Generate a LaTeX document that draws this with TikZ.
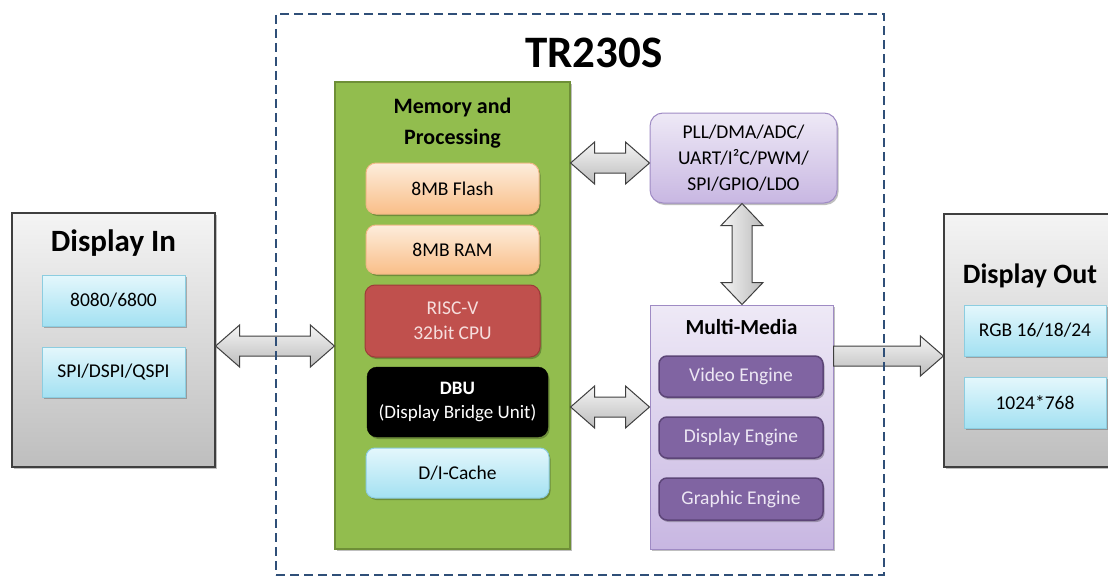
\documentclass[tikz,border=0pt]{standalone}
\usepackage{fontspec}
\setmainfont{Carlito}
\usetikzlibrary{calc,shadows}
\definecolor{grayT}{HTML}{F4F4F4}
\definecolor{grayB}{HTML}{BEBEBE}
\definecolor{darkline}{HTML}{3F3F3F}
\definecolor{cyanT}{HTML}{E4F7FC}
\definecolor{cyanB}{HTML}{A3E1F2}
\definecolor{cyanL}{HTML}{8CCDE0}
\definecolor{greenF}{HTML}{92BD4E}
\definecolor{greenL}{HTML}{6E8F37}
\definecolor{orangeT}{HTML}{FDEDDC}
\definecolor{orangeB}{HTML}{F9BE88}
\definecolor{orangeL}{HTML}{F2B887}
\definecolor{redF}{HTML}{C0504D}
\definecolor{redL}{HTML}{9E3B39}
\definecolor{redT}{HTML}{F6DEDD}
\definecolor{lavT}{HTML}{EEE9F6}
\definecolor{lavB}{HTML}{C8B7E2}
\definecolor{lavL}{HTML}{9F8BC4}
\definecolor{engF}{HTML}{8064A2}
\definecolor{engL}{HTML}{5C4577}
\definecolor{engT}{HTML}{EDE7F4}
\definecolor{dashC}{HTML}{2F4F78}
\definecolor{arrT}{HTML}{F5F5F5}
\definecolor{arrB}{HTML}{BCBCBC}
\newcommand{\dblarrH}[3]{%
  \path[fatarrow] let \p1=(#1),\p2=(#2),\p3=(0,#3) in
    (\x1,\y3) -- (\x1+24pt,\y3+21pt) -- (\x1+24pt,\y3+10pt) -- (\x2-24pt,\y3+10pt)
    -- (\x2-24pt,\y3+21pt) -- (\x2,\y3) -- (\x2-24pt,\y3-21pt) -- (\x2-24pt,\y3-10pt)
    -- (\x1+24pt,\y3-10pt) -- (\x1+24pt,\y3-21pt) -- cycle;}
\newcommand{\dblarrV}[3]{%
  \path[fatarrowv] let \p1=(#1),\p2=(#2),\p3=(#3,0) in
    (\x3,\y1) -- (\x3+21pt,\y1-22pt) -- (\x3+10pt,\y1-22pt) -- (\x3+10pt,\y2+22pt)
    -- (\x3+21pt,\y2+22pt) -- (\x3,\y2) -- (\x3-21pt,\y2+22pt) -- (\x3-10pt,\y2+22pt)
    -- (\x3-10pt,\y1-22pt) -- (\x3-21pt,\y1-22pt) -- cycle;}
\newcommand{\oneArrH}[3]{%
  \path[fatarrow] let \p1=(#1),\p2=(#2),\p3=(0,#3) in
    (\x1,\y3+10pt) -- (\x2-23pt,\y3+10pt) -- (\x2-23pt,\y3+20pt) -- (\x2,\y3)
    -- (\x2-23pt,\y3-20pt) -- (\x2-23pt,\y3-10pt) -- (\x1,\y3-10pt) -- cycle;}
\tikzset{
  shad/.style={drop shadow={shadow xshift=1.5pt,shadow yshift=-2pt,opacity=0.25,fill=black}},
  txt/.style={inner sep=0pt, align=center, font=\fontsize{19.5}{24}\selectfont},
  graybox/.style={draw=darkline, line width=1.2pt, top color=grayT, bottom color=grayB, shad},
  cyanbox/.style={txt, draw=cyanL, line width=1pt, top color=cyanT, bottom color=cyanB, shad},
  cyanround/.style={cyanbox, rounded corners=9pt},
  greenbox/.style={draw=greenL, line width=1.2pt, fill=greenF, shad},
  orangebox/.style={txt, draw=orangeL, line width=1pt, top color=orangeT, bottom color=orangeB, rounded corners=10pt, shad},
  redbox/.style={txt, draw=redL, line width=1pt, fill=redF, text=redT, rounded corners=10pt, shad},
  blackbox/.style={txt, draw=black, fill=black, text=white, rounded corners=10pt, shad},
  lavbox/.style={draw=lavL, line width=1pt, top color=lavT, bottom color=lavB, shad},
  engbox/.style={txt, draw=engL, line width=1.5pt, fill=engF, text=engT, rounded corners=8pt, shad},
  fatarrow/.style={draw=darkline, line width=1pt, top color=arrT, bottom color=arrB},
  fatarrowv/.style={draw=darkline, line width=1pt, left color=arrT, right color=arrB},
  chipbox/.style={draw=dashC, line width=2.5pt, dash pattern=on 9pt off 5pt},
  heading/.style={inner sep=0pt, font=\bfseries\fontsize{#1}{#1}\selectfont}
}
\begin{document}
\begin{tikzpicture}[x=1pt,y=-1pt]
\useasboundingbox (0,0) rectangle (1108,578);
\clip (0,0) rectangle (1108,578);
\fill[white] (0,0) rectangle (1108,578);

% Display In
\node[graybox, minimum width=203pt, minimum height=254pt] (dispin) at (113.5,340) {};
\node[heading=31, anchor=base] (dintitle) at (113.5,251) {Display In};
\node[cyanbox, minimum width=143pt, minimum height=51pt] (d1) at (113.5,300.5) {8080/6800};
\node[cyanbox, minimum width=143pt, minimum height=50pt] (d2) at (113.5,372) {SPI/DSPI/QSPI};

% Memory and Processing
\node[greenbox, minimum width=235pt, minimum height=467pt] (mem) at (452.5,315.5) {};
\node[heading=22, align=center, font=\bfseries\fontsize{22}{31}\selectfont] (memtitle) at (452.5,123) {Memory and\\Processing};
\node[orangebox, minimum width=173pt, minimum height=51pt] (flash) at (452.5,188.5) {8MB Flash};
\node[orangebox, minimum width=173pt, minimum height=49pt] (ram) at (452.5,249.5) {8MB RAM};
\node[redbox, minimum width=175pt, minimum height=72pt, font=\fontsize{19.5}{25}\selectfont] (cpu) at (452.5,321) {RISC-V\\32bit CPU};
\node[blackbox, minimum width=181pt, minimum height=70pt, font=\fontsize{19}{24}\selectfont] (dbu) at (457.5,402) {\textbf{DBU}\\(Display Bridge Unit)};
\node[cyanround, minimum width=183pt, minimum height=50pt] (cache) at (457.5,473) {D/I-Cache};

% Peripherals
\node[lavbox, txt, rounded corners=13pt, minimum width=187pt, minimum height=90pt, font=\fontsize{19.5}{26}\selectfont] (pll) at (743.5,158) {PLL/DMA/ADC/\\UART/I²C/PWM/\\SPI/GPIO/LDO};

% Multi-Media
\node[lavbox, minimum width=183pt, minimum height=244pt] (mm) at (741.5,427) {};
\node[heading=21.5, anchor=base] (mmtitle) at (741.5,334) {Multi-Media};
\node[engbox, minimum width=164pt, minimum height=41pt] (video) at (741,376.5) {Video Engine};
\node[engbox, minimum width=164pt, minimum height=41pt] (dispeng) at (741,437.5) {Display Engine};
\node[engbox, minimum width=164pt, minimum height=42pt] (graph) at (741,499) {Graphic Engine};

% Display Out
\node[graybox, minimum width=186pt, minimum height=253pt] (dout) at (1037,340.5) {};
\node[heading=28, anchor=base] (dotitle) at (1030,283) {Display Out};
\node[cyanbox, minimum width=142pt, minimum height=51pt] (o1) at (1035,330.5) {RGB 16/18/24};
\node[cyanbox, minimum width=142pt, minimum height=51pt] (o2) at (1035,402.5) {1024*768};

% Arrows
\dblarrH{dispin.east}{mem.west}{346}
\dblarrH{mem.east}{pll.west}{163}
\dblarrH{mem.east}{mm.west}{407}
\dblarrV{pll.south}{mm.north}{742}
\oneArrH{mm.east}{dout.west}{356}

% Chip boundary
\node[chipbox, minimum width=608pt, minimum height=561pt] (chip) at (580,294.5) {};
\node[heading=45, anchor=base] (title) at (594,67) {TR230S};
\end{tikzpicture}
\end{document}
